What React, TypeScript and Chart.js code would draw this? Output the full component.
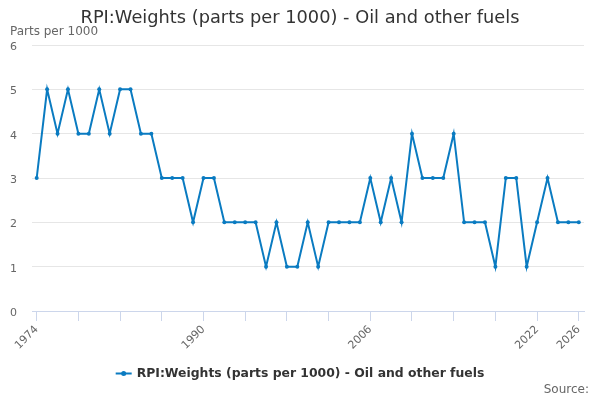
import React, { useEffect, useRef } from "react";
import { Chart, registerables } from "chart.js";

Chart.register(...registerables);

const years: number[] = [
  1974, 1975, 1976, 1977, 1978, 1979, 1980, 1981, 1982, 1983, 1984, 1985, 1986,
  1987, 1988, 1989, 1990, 1991, 1992, 1993, 1994, 1995, 1996, 1997, 1998, 1999,
  2000, 2001, 2002, 2003, 2004, 2005, 2006, 2007, 2008, 2009, 2010, 2011, 2012,
  2013, 2014, 2015, 2016, 2017, 2018, 2019, 2020, 2021, 2022, 2023, 2024, 2025,
  2026,
];
const weights: number[] = [
  3, 5, 4, 5, 4, 4, 5, 4, 5, 5, 4, 4, 3, 3, 3, 2, 3, 3, 2, 2, 2, 2, 1, 2, 1, 1,
  2, 1, 2, 2, 2, 2, 3, 2, 3, 2, 4, 3, 3, 3, 4, 2, 2, 2, 1, 3, 3, 1, 2, 3, 2, 2,
  2,
];
const tickYears: number[] = [
  1974, 1978, 1982, 1986, 1990, 1994, 1998, 2002, 2006, 2010, 2014, 2018, 2022,
  2026,
];
const labelYears: number[] = [1974, 1990, 2006, 2022, 2026];
const yTicks: number[] = [0, 1, 2, 3, 4, 5, 6];

const TITLE = "RPI:Weights (parts per 1000) - Oil and other fuels";
const SERIES = "RPI:Weights (parts per 1000) - Oil and other fuels";
const Y_TITLE = "Parts per 1000";
const SOURCE = "Source:";
const LINE_COLOR = "#0a7bc1";
const FONT = "'DejaVu Sans', Verdana, sans-serif";

const extrasPlugin = {
  id: "extras",
  afterDraw(chart: any) {
    const ctx = chart.ctx;
    const area = chart.chartArea;
    ctx.save();
    // title
    ctx.font = `17.8px ${FONT}`;
    ctx.fillStyle = "#333333";
    ctx.textAlign = "center";
    ctx.textBaseline = "middle";
    ctx.fillText(TITLE, chart.width / 2, 18.5);

    // y axis title
    ctx.font = `12px ${FONT}`;
    ctx.fillStyle = "#666666";
    ctx.textAlign = "left";
    ctx.fillText(Y_TITLE, 10, area.top - 13.5);

    // legend
    ctx.font = `bold 12.4px ${FONT}`;
    const tw = ctx.measureText(SERIES).width;
    const total = 16 + 5 + tw;
    const x0 = (chart.width - total) / 2;
    const ly = 373.5;
    ctx.strokeStyle = LINE_COLOR;
    ctx.lineWidth = 2;
    ctx.beginPath();
    ctx.moveTo(x0, ly);
    ctx.lineTo(x0 + 16, ly);
    ctx.stroke();
    ctx.fillStyle = LINE_COLOR;
    ctx.beginPath();
    ctx.arc(x0 + 8, ly, 2.5, 0, Math.PI * 2);
    ctx.fill();
    ctx.fillStyle = "#333333";
    ctx.textAlign = "left";
    ctx.fillText(SERIES, x0 + 21, ly);

    // source
    ctx.font = `12px ${FONT}`;
    ctx.fillStyle = "#666666";
    ctx.textAlign = "right";
    ctx.fillText(SOURCE, 589, 390);
    ctx.restore();
  },
};

export default function App() {
  const ref = useRef<HTMLCanvasElement | null>(null);

  useEffect(() => {
    document.body.style.margin = "0";
    if (!ref.current) return;
    const chart = new Chart(ref.current, {
      type: "line",
      data: {
        datasets: [
          {
            label: SERIES,
            data: years.map((y, i) => ({ x: y, y: weights[i] })),
            borderColor: LINE_COLOR,
            backgroundColor: LINE_COLOR,
            borderWidth: 2,
            pointRadius: 2,
            pointHoverRadius: 2,
            pointBorderWidth: 0,
            tension: 0,
          },
        ],
      },
      options: {
        animation: false,
        responsive: true,
        maintainAspectRatio: false,
        layout: { padding: { left: 0, right: 16, top: 45, bottom: 49 } },
        plugins: {
          legend: { display: false },
          tooltip: { enabled: false },
          title: { display: false },
        },
        scales: {
          x: {
            type: "linear",
            min: 1973.55,
            max: 2026.5,
            afterBuildTicks: (scale: any) => {
              scale.ticks = tickYears.map((v) => ({ value: v }));
            },
            afterFit: (scale: any) => {
              scale.height = 40;
            },
            grid: {
              display: true,
              drawOnChartArea: false,
              drawTicks: true,
              tickLength: 10,
              color: "#ccd6eb",
            },
            border: { display: true, color: "#ccd6eb", width: 1 },
            ticks: {
              autoSkip: false,
              minRotation: 45,
              maxRotation: 45,
              padding: 2,
              color: "#666666",
              font: { family: FONT, size: 11 },
              callback: (v: any) =>
                labelYears.includes(Number(v)) ? String(v) : "",
            },
          },
          y: {
            min: 0,
            max: 6,
            afterBuildTicks: (scale: any) => {
              scale.ticks = yTicks.map((v) => ({ value: v }));
            },
            afterFit: (scale: any) => {
              scale.width = 32;
            },
            grid: { color: "#e6e6e6", drawTicks: false },
            border: { display: false },
            ticks: {
              padding: 15,
              labelOffset: 2,
              color: "#666666",
              font: { family: FONT, size: 11 },
            },
          },
        },
      },
      plugins: [extrasPlugin],
    });
    return () => chart.destroy();
  }, []);

  return (
    <div style={{ width: 600, height: 400, position: "relative" }}>
      <canvas ref={ref} />
    </div>
  );
}
